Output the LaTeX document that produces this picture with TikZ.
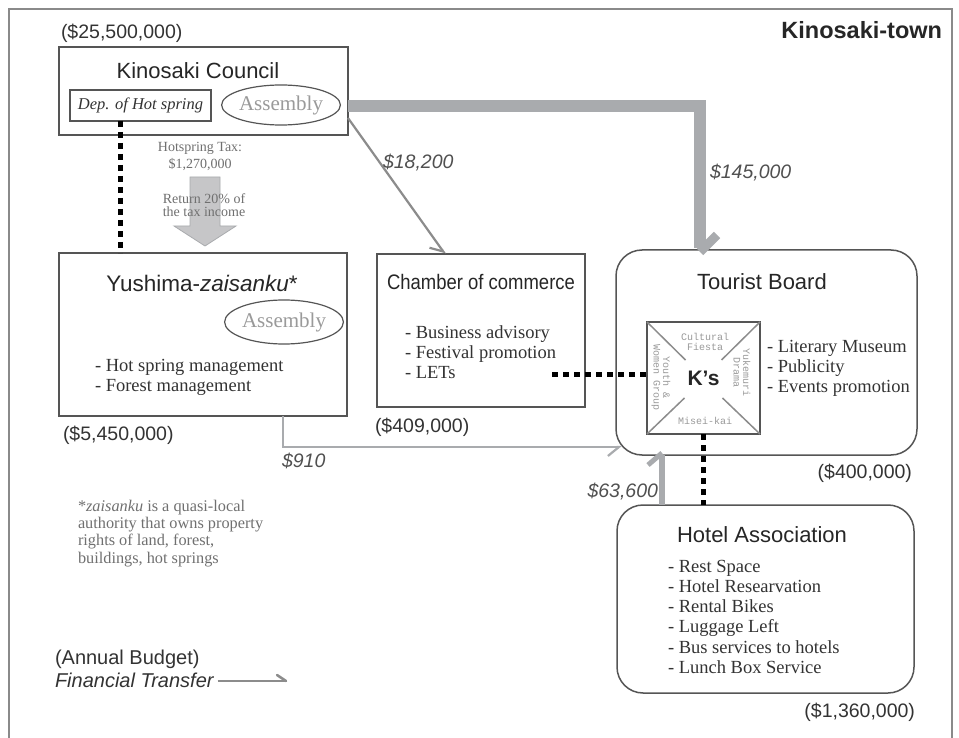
\documentclass[tikz,border=0pt]{standalone}
\usepackage{fontspec}
\setmainfont{Liberation Serif}
\setsansfont{Liberation Sans}
\setmonofont{Liberation Mono}
\usetikzlibrary{arrows.meta,shapes.geometric}
\definecolor{ink}{HTML}{262626}
\definecolor{ink2}{HTML}{333333}
\definecolor{amt}{HTML}{505050}
\definecolor{edge}{HTML}{555555}
\definecolor{flow}{HTML}{A9ABAE}
\definecolor{thinflow}{HTML}{8C8C8C}
\definecolor{framecol}{HTML}{8A8A8A}
\definecolor{faint}{HTML}{707070}
\definecolor{asmtext}{HTML}{9A9A9A}
\definecolor{bigarrow}{HTML}{C6C6C8}
\newcommand{\itemlines}[1]{\begin{tabular}[t]{@{}l@{}}#1\end{tabular}}
\begin{document}
\begin{tikzpicture}[x=1pt,y=-1pt,
  every node/.style={inner sep=0pt,outer sep=0pt,text=ink},
  box/.style={draw=edge,line width=1.5pt,anchor=north west},
  rbox/.style={box,rounded corners=26pt},
  ttl/.style={font=\fontsize{22}{26}\selectfont\sffamily,anchor=base},
  budget/.style={font=\fontsize{19.5}{22}\selectfont\sffamily,text=ink2,anchor=base west},
  amount/.style={font=\fontsize{19.5}{22}\selectfont\sffamily\itshape,text=amt,anchor=base west},
  itemtext/.style={font=\fontsize{18.5}{20.3}\selectfont\rmfamily,text=ink2,anchor=base west},
  asm/.style={ellipse,draw=edge,line width=1.2pt,font=\fontsize{21}{24}\selectfont\rmfamily,text=asmtext},
  small/.style={font=\fontsize{14}{17}\selectfont\rmfamily,text=faint,anchor=base},
  kstext/.style={font=\fontsize{10}{9.5}\selectfont\ttfamily,text=asmtext,align=center},
  dots/.style={line width=5pt,dash pattern=on 6pt off 5pt,black},
  bigflow/.style={draw=flow,line width=12pt},
  midflow/.style={draw=flow,line width=6pt},
  thinarrow/.style={draw=thinflow,line width=2.2pt,-{Straight Barb[harpoon,swap,length=11pt,width=18pt]}}
]
\useasboundingbox (0,0) rectangle (959,738);
\fill[white] (0,0) rectangle (959,738);
% frame
\draw[framecol,line width=2pt] (9,740) -- (9,9) -- (952,9) -- (952,740);
\node[font=\fontsize{23.5}{26}\selectfont\sffamily\bfseries,anchor=base east] (town) at (942,39) {Kinosaki-town};

% Kinosaki Council
\node[budget] (b1) at (61,39) {(\$25,500,000)};
\node[box,minimum width=289pt,minimum height=88pt] (council) at (59,47) {};
\node[ttl] (ctitle) at (198,79) {Kinosaki Council};
\node[box,minimum width=141pt,minimum height=31pt,font=\fontsize{16.5}{20}\selectfont\rmfamily\itshape,text=ink2,anchor=center] (dep) at (140.5,105.5) {Dep. of Hot spring};
\node[asm,minimum width=102pt,minimum height=40pt] (asm1) at (281,105) {Assembly};

% big grey block arrow (hot spring tax return)
\filldraw[fill=bigarrow,draw=flow,line width=0.8pt] (190,177) -- (220,177) -- (220,226) -- (236,226) -- (205,246) -- (174,226) -- (190,226) -- cycle;
\node[small] (tax1) at (200,152) {Hotspring Tax:};
\node[small] (tax2) at (200,169) {\$1,270,000};
\node[small] (ret1) at (204,204) {Return 20\% of};
\node[small] (ret2) at (204,217) {the tax income};

% Yushima
\node[box,minimum width=288pt,minimum height=163pt] (yushima) at (59,253) {};
\node[ttl,font=\fontsize{22.5}{26}\selectfont\sffamily] (ytitle) at (202,291) {Yushima-\textit{zaisanku}*};
\node[asm,minimum width=102pt,minimum height=44pt] (asm2) at (284,322) {Assembly};
\node[itemtext] (yitems) at (95,371) {\itemlines{- Hot spring management\\- Forest management}};
\node[budget] (b2) at (63,440) {(\$5,450,000)};

% Chamber of commerce
\node[box,minimum width=208pt,minimum height=153pt] (chamber) at (377,254) {};
\node[ttl,font=\fontsize{21}{26}\selectfont\sffamily] (chtitle) at (481,290) {\scalebox{0.88}[1]{Chamber of commerce}};
\node[itemtext] (chitems) at (405,338) {\itemlines{- Business advisory\\- Festival promotion\\- LETs}};
\node[budget] (b3) at (375,432) {(\$409,000)};

% Tourist Board
\node[rbox,minimum width=301pt,minimum height=205pt] (tb) at (616,250) {};
\node[ttl] (tbtitle) at (762,290) {Tourist Board};
\node[draw=edge,line width=1.5pt,minimum width=113pt,minimum height=112pt,anchor=north west] (ks) at (647,322) {};
\node[font=\fontsize{21}{24}\selectfont\sffamily\bfseries] (kslabel) at (703.5,378) {K's};
\draw[thinflow,line width=1.5pt] (ks.north west) -- ([shift={(-18,-18)}]ks.center);
\draw[thinflow,line width=1.5pt] (ks.north east) -- ([shift={(18,-18)}]ks.center);
\draw[thinflow,line width=1.5pt] (ks.south west) -- ([shift={(-19,20)}]ks.center);
\draw[thinflow,line width=1.5pt] (ks.south east) -- ([shift={(19,20)}]ks.center);
\node[kstext] (ks1) at (705,342) {Cultural\\Fiesta};
\node[kstext] (ks2) at (705,421) {Misei-kai};
\node[kstext,rotate=-90] (ks3) at (661,378) {Youth \&\\Women Group};
\node[kstext,rotate=-90] (ks4) at (742,373) {Yukemuri\\Drama};
\node[itemtext] (tbitems) at (767,352) {\itemlines{- Literary Museum\\- Publicity\\- Events promotion}};
\node[budget,anchor=base east] (b4) at (912,478) {(\$400,000)};

% Hotel Association
\node[rbox,minimum width=297pt,minimum height=188pt] (hotel) at (617,505) {};
\node[ttl] (htitle) at (762,542) {Hotel Association};
\node[itemtext] (hitems) at (668,572) {\itemlines{- Rest Space\\- Hotel Researvation\\- Rental Bikes\\- Luggage Left\\- Bus services to hotels\\- Lunch Box Service}};
\node[budget,anchor=base east] (b5) at (915,717) {(\$1,360,000)};

% footnote and legend
\node[font=\fontsize{16.3}{17.4}\selectfont\rmfamily,text=faint,anchor=base west] (foot) at (78,511) {\itemlines{*\textit{zaisanku} is a quasi-local\\authority that owns property\\rights of land, forest,\\buildings, hot springs}};
\node[font=\fontsize{20}{23}\selectfont\sffamily,text=ink2,anchor=base west] (leg1) at (55,664) {(Annual Budget)};
\node[font=\fontsize{20}{23}\selectfont\sffamily\itshape,text=ink2,anchor=base west] (leg2) at (55,687) {Financial Transfer};
\coordinate (legend end) at (286,681);
\draw[draw=thinflow,line width=2.5pt] ([xshift=4pt,yshift=6pt]leg2.base east) -- (legend end);
\draw[draw=thinflow,line width=2.5pt,line cap=round] (legend end) -- ++(-9,-6);

% connectors
\draw[dots] ([xshift=-20.5pt]dep.south) -- ([xshift=-20.5pt]dep.south |- yushima.north);
\draw[dots] ([xshift=-95pt,yshift=4pt]ks.west) -- ([yshift=4pt]ks.west);
\draw[dots] (ks.south) -- (ks.south |- hotel.north);

\coordinate (tbin) at ([xshift=-66.5pt,yshift=2pt]tb.north);
\draw[bigflow] ([yshift=-15pt]council.east) -| (tbin);
\draw[flow,line width=9pt] ([yshift=-4pt]tbin) -- ++(17,-17);
\node[amount] (a145) at (710,179) {\$145,000};

\draw[thinarrow] ([yshift=-27pt]council.east) -- ([xshift=-36pt]chamber.north);
\node[amount] (a18) at (383,169) {\$18,200};

\draw[draw=flow,line width=2.2pt,{Straight Barb[harpoon,swap,length=11pt,width=18pt]}-] ([xshift=6pt,yshift=8pt]tb.south west) -| ([xshift=80pt]yushima.south);
\node[amount] (a910) at (282,467) {\$910};

\coordinate (x662) at (662,0);
\coordinate (tbout) at (tb.south -| x662);
\draw[midflow] (hotel.north -| x662) -- (tbout);
\draw[flow,line width=5pt] ([yshift=2pt]tbout) -- ++(-14,12);
\node[amount,anchor=base east] (a636) at (658,497) {\$63,600};
\end{tikzpicture}
\end{document}
